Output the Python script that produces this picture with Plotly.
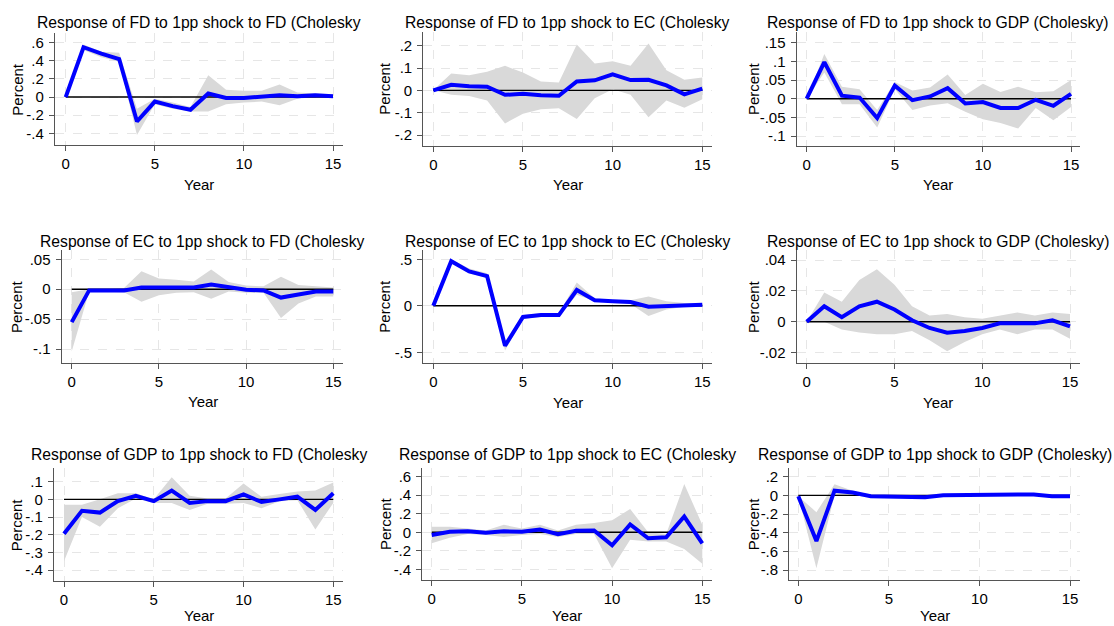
import plotly.graph_objects as go

W, H = 1114, 626
years = list(range(16))

titles = [
    "Response of FD to 1pp shock to FD (Cholesky",
    "Response of FD to 1pp shock to EC (Cholesky",
    "Response of FD to 1pp shock to GDP (Cholesky)",
    "Response of EC to 1pp shock to FD (Cholesky",
    "Response of EC to 1pp shock to EC (Cholesky",
    "Response of EC to 1pp shock to GDP (Cholesky)",
    "Response of GDP to 1pp shock to FD (Cholesky",
    "Response of GDP to 1pp shock to EC (Cholesky",
    "Response of GDP to 1pp shock to GDP (Cholesky)",
]

# ---- data (impulse responses and confidence bands) ----
fd_fd = [0, 0.55, 0.48, 0.42, -0.27, -0.05, -0.10, -0.14, 0.04, -0.01, -0.01, 0.00, 0.02, 0.01, 0.02, 0.01]
fd_fd_hi = [0, 0.58, 0.50, 0.49, -0.13, -0.02, -0.06, -0.11, 0.24, 0.08, 0.07, 0.07, 0.14, 0.05, 0.04, 0.03]
fd_fd_lo = [0, 0.52, 0.44, 0.39, -0.42, -0.08, -0.13, -0.16, -0.16, -0.08, -0.06, -0.05, -0.09, -0.02, 0.00, 0.00]

fd_ec = [0, 0.025, 0.018, 0.016, -0.020, -0.015, -0.022, -0.024, 0.040, 0.045, 0.072, 0.046, 0.047, 0.022, -0.018, 0.008]
fd_ec_hi = [0, 0.075, 0.068, 0.083, 0.110, 0.080, 0.040, 0.035, 0.205, 0.120, 0.130, 0.110, 0.210, 0.090, 0.048, 0.058]
fd_ec_lo = [0, -0.020, -0.025, -0.045, -0.148, -0.105, -0.085, -0.080, -0.128, -0.035, 0.005, -0.020, -0.120, -0.045, -0.078, -0.040]

fd_gdp = [0, 0.098, 0.008, 0.003, -0.052, 0.035, -0.004, 0.006, 0.028, -0.013, -0.009, -0.025, -0.025, -0.003, -0.019, 0.013]
fd_gdp_hi = [0, 0.120, 0.032, 0.025, -0.030, 0.045, 0.022, 0.030, 0.065, 0.010, 0.040, 0.018, 0.032, 0.017, 0.020, 0.050]
fd_gdp_lo = [0, 0.070, -0.015, -0.015, -0.077, 0.025, -0.030, -0.018, -0.012, -0.035, -0.055, -0.065, -0.080, -0.025, -0.058, -0.022]

ec_fd = [-0.055, -0.002, -0.002, -0.002, 0.003, 0.003, 0.004, 0.003, 0.008, 0.003, -0.001, -0.002, -0.014, -0.009, -0.004, -0.004]
ec_fd_hi = [-0.005, 0.000, 0.000, 0.002, 0.030, 0.018, 0.016, 0.013, 0.033, 0.012, 0.006, 0.005, 0.021, 0.007, 0.005, 0.003]
ec_fd_lo = [-0.104, -0.004, -0.004, -0.005, -0.021, -0.010, -0.006, -0.005, -0.016, -0.004, -0.006, -0.006, -0.048, -0.024, -0.012, -0.012]

ec_ec = [0, 0.48, 0.37, 0.32, -0.43, -0.12, -0.10, -0.10, 0.17, 0.06, 0.05, 0.04, -0.01, 0.00, 0.01, 0.01]
ec_ec_hi = [0, 0.50, 0.40, 0.35, -0.38, -0.10, -0.08, -0.08, 0.25, 0.08, 0.06, 0.06, 0.10, 0.05, 0.03, 0.02]
ec_ec_lo = [0, 0.46, 0.35, 0.30, -0.48, -0.14, -0.12, -0.12, 0.12, 0.05, 0.03, 0.02, -0.11, -0.04, -0.01, 0.00]

ec_gdp = [0, 0.010, 0.003, 0.010, 0.013, 0.008, 0.001, -0.004, -0.007, -0.006, -0.004, -0.001, -0.001, -0.001, 0.001, -0.003]
ec_gdp_hi = [0, 0.019, 0.013, 0.027, 0.034, 0.024, 0.010, 0.004, 0.005, 0.003, 0.002, 0.004, 0.006, 0.004, 0.006, 0.005]
ec_gdp_lo = [0, 0.000, -0.005, -0.007, -0.008, -0.008, -0.006, -0.012, -0.019, -0.013, -0.008, -0.005, -0.008, -0.005, -0.005, -0.011]

gdp_fd = [-0.195, -0.065, -0.075, -0.010, 0.020, -0.010, 0.050, -0.020, -0.010, -0.010, 0.028, -0.015, 0.000, 0.015, -0.060, 0.035]
gdp_fd_hi = [-0.030, -0.030, 0.000, 0.035, 0.035, 0.000, 0.125, 0.020, 0.005, 0.005, 0.090, 0.015, 0.030, 0.045, 0.050, 0.095]
gdp_fd_lo = [-0.350, -0.100, -0.155, -0.050, 0.005, -0.020, -0.020, -0.060, -0.025, -0.025, -0.020, -0.050, -0.010, -0.005, -0.170, -0.020]

gdp_ec = [-0.03, 0.005, 0.01, -0.005, 0.01, 0.005, 0.03, -0.02, 0.015, 0.02, -0.14, 0.085, -0.065, -0.055, 0.17, -0.12]
gdp_ec_hi = [0.06, 0.06, 0.04, 0.02, 0.08, 0.04, 0.08, 0.02, 0.08, 0.10, 0.13, 0.25, 0.00, -0.02, 0.52, 0.08]
gdp_ec_lo = [-0.12, -0.06, -0.02, -0.03, -0.05, -0.03, -0.02, -0.05, -0.02, -0.02, -0.39, -0.08, -0.10, -0.10, -0.18, -0.34]

gdp_gdp = [-0.01, -0.49, 0.05, 0.03, -0.01, -0.01, -0.01, -0.02, 0.00, 0.00, 0.00, 0.00, 0.005, 0.01, -0.01, -0.01]
gdp_gdp_hi = [-0.01, -0.18, 0.12, 0.05, 0.00, 0.00, 0.00, -0.01, 0.01, 0.01, 0.01, 0.01, 0.015, 0.02, 0.00, 0.00]
gdp_gdp_lo = [-0.01, -0.78, 0.00, 0.00, -0.02, -0.02, -0.02, -0.03, -0.01, -0.01, -0.01, -0.01, -0.005, 0.00, -0.02, -0.02]

# y tick values / labels per panel
yt1 = [-0.4, -0.2, 0, 0.2, 0.4, 0.6]; yl1 = ["-.4", "-.2", "0", ".2", ".4", ".6"]
yt2 = [-0.2, -0.1, 0, 0.1, 0.2]; yl2 = ["-.2", "-.1", "0", ".1", ".2"]
yt3 = [-0.1, -0.05, 0, 0.05, 0.1, 0.15]; yl3 = ["-.1", "-.05", "0", ".05", ".1", ".15"]
yt4 = [-0.1, -0.05, 0, 0.05]; yl4 = ["-.1", "-.05", "0", ".05"]
yt5 = [-0.5, 0, 0.5]; yl5 = ["-.5", "0", ".5"]
yt6 = [-0.02, 0, 0.02, 0.04]; yl6 = ["-.02", "0", ".02", ".04"]
yt7 = [-0.4, -0.3, -0.2, -0.1, 0, 0.1]; yl7 = ["-.4", "-.3", "-.2", "-.1", "0", ".1"]
yt8 = [-0.4, -0.2, 0, 0.2, 0.4, 0.6]; yl8 = ["-.4", "-.2", "0", ".2", ".4", ".6"]
yt9 = [-0.8, -0.6, -0.4, -0.2, 0, 0.2]; yl9 = ["-.8", "-.6", "-.4", "-.2", "0", ".2"]
xt = [0, 5, 10, 15]

series = [
    (fd_fd, fd_fd_hi, fd_fd_lo, yt1, yl1),
    (fd_ec, fd_ec_hi, fd_ec_lo, yt2, yl2),
    (fd_gdp, fd_gdp_hi, fd_gdp_lo, yt3, yl3),
    (ec_fd, ec_fd_hi, ec_fd_lo, yt4, yl4),
    (ec_ec, ec_ec_hi, ec_ec_lo, yt5, yl5),
    (ec_gdp, ec_gdp_hi, ec_gdp_lo, yt6, yl6),
    (gdp_fd, gdp_fd_hi, gdp_fd_lo, yt7, yl7),
    (gdp_ec, gdp_ec_hi, gdp_ec_lo, yt8, yl8),
    (gdp_gdp, gdp_gdp_hi, gdp_gdp_lo, yt9, yl9),
]

# ---- layout geometry (pixels): box l,r,t,b ; x calib (px0 for 0, px15 for 15); y calib (py_a,va,py_b,vb)
geom = [
    ((55, 343, 33, 145), (65.7, 333), (42.7, 0.6, 133.3, -0.4)),
    ((423.3, 711.7, 31.7, 145.7), (433.3, 702.3), (45.7, 0.2, 135, -0.2)),
    ((796.7, 1080, 31.7, 145.7), (806.7, 1071), (42.7, 0.15, 136, -0.1)),
    ((61.7, 343.3, 250, 362.7), (71.7, 333.3), (259.3, 0.05, 349, -0.1)),
    ((423.3, 711.7, 250, 363.3), (433.3, 702.3), (259.3, 0.5, 352.3, -0.5)),
    ((796.7, 1080, 250, 363.3), (806.7, 1070), (260, 0.04, 352.7, -0.02)),
    ((54, 343.3, 468.3, 580.7), (64, 333.3), (481.7, 0.1, 570, -0.4)),
    ((422.3, 711.7, 468, 580), (431.7, 702.3), (476.7, 0.6, 569.3, -0.4)),
    ((789.3, 1080, 468, 580), (798.3, 1070), (476.7, 0.2, 570, -0.8)),
]
title_y = [22, 22, 22, 241, 241, 241, 455, 455, 455]
percent_x = [16.7, 385, 753.3, 16.7, 385, 753.3, 16.7, 385, 753.3]
year_off = [39, 39, 39, 39, 39, 39, 35, 35, 35]

FONT = "Liberation Sans, Arial, Helvetica, sans-serif"
AX = "#555555"
GRID = "#e6e6e6"

fig = go.Figure()
annotations = []
layout = {}

for i, ((y, hi, lo, yt, yl), (box, xc, yc)) in enumerate(zip(series, geom)):
    l, r, t, b = box
    n = "" if i == 0 else str(i + 1)
    xs = (15 - 0) / (xc[1] - xc[0])
    xr = [(l - xc[0]) * xs, (r - xc[0]) * xs]
    ys = (yc[3] - yc[1]) / (yc[2] - yc[0])
    yr = [yc[1] + (b - yc[0]) * ys, yc[1] + (t - yc[0]) * ys]
    xa, ya = "x" + n, "y" + n
    common = dict(showline=True, linecolor=AX, linewidth=1.3, ticks="outside",
                  ticklen=5, tickcolor=AX, tickwidth=1.2, showgrid=True,
                  gridcolor=GRID, griddash="dash", gridwidth=1, zeroline=False,
                  tickfont=dict(family=FONT, size=15, color="black"))
    layout["xaxis" + n] = dict(domain=[l / W, r / W], range=xr, anchor=ya,
                               tickvals=xt, ticktext=[str(v) for v in xt], **common)
    layout["yaxis" + n] = dict(domain=[1 - b / H, 1 - t / H], range=yr, anchor=xa,
                               tickvals=yt, ticktext=yl, ticklabelstandoff=2, **common)
    # CI band
    fig.add_trace(go.Scatter(x=years + years[::-1], y=hi + lo[::-1], fill="toself",
                             fillcolor="#d9d9d9", line=dict(width=0), mode="lines",
                             hoverinfo="skip", showlegend=False, xaxis=xa, yaxis=ya))
    # zero line
    fig.add_trace(go.Scatter(x=[years[0], years[-1]], y=[0, 0], mode="lines",
                             line=dict(color="black", width=1.4), showlegend=False,
                             xaxis=xa, yaxis=ya))
    # IRF
    fig.add_trace(go.Scatter(x=years, y=y, mode="lines",
                             line=dict(color="#0000ff", width=4), showlegend=False,
                             xaxis=xa, yaxis=ya))
    cx = (l + r) / 2
    annotations.append(dict(text=titles[i], x=cx / W, y=1 - title_y[i] / H, xref="paper",
                            yref="paper", xanchor="center", yanchor="middle", showarrow=False,
                            font=dict(family=FONT, size=15.7, color="black")))
    annotations.append(dict(text="Percent", x=percent_x[i] / W, y=1 - ((t + b) / 2) / H,
                            xref="paper", yref="paper", xanchor="center", yanchor="middle",
                            textangle=-90, showarrow=False,
                            font=dict(family=FONT, size=15, color="black")))
    annotations.append(dict(text="Year", x=cx / W, y=1 - (b + year_off[i]) / H, xref="paper",
                            yref="paper", xanchor="center", yanchor="middle", showarrow=False,
                            font=dict(family=FONT, size=15, color="black")))

fig.update_layout(width=W, height=H, margin=dict(l=0, r=0, t=0, b=0),
                  paper_bgcolor="white", plot_bgcolor="white",
                  annotations=annotations, **layout)
fig.write_html("out.html")
